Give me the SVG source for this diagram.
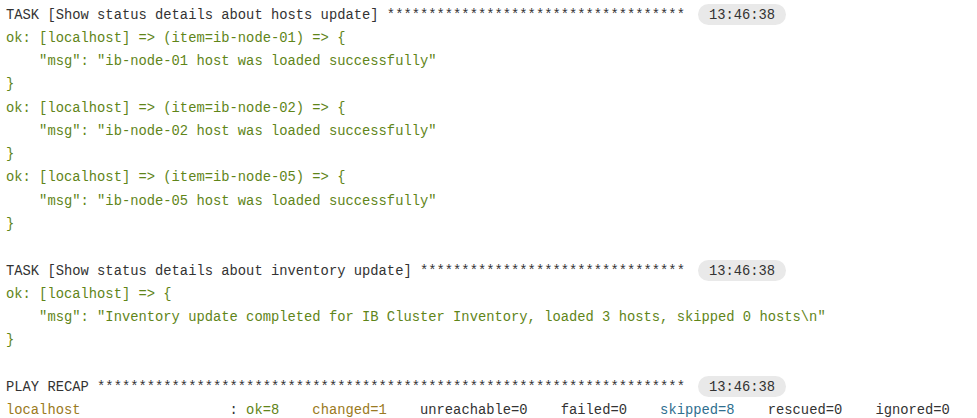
<svg xmlns="http://www.w3.org/2000/svg" width="977" height="418" viewBox="0 0 977 418">
<style>
text{font-family:"Liberation Mono","DejaVu Sans Mono",monospace;font-size:13.8px;white-space:pre}
.t{fill:#333}
.g{fill:#5f8519}
.y{fill:#9a7a22}
.b{fill:#2f6f8f}
.pill{fill:#e9e9e9}
.ts{fill:#333;text-anchor:middle}
</style>
<rect width="977" height="418" fill="#fff"/>
<g id="task1">
<text class="t" x="6" y="19" xml:space="preserve">TASK [Show status details about hosts update] ************************************</text>
<rect class="pill" x="698" y="4" width="88" height="21" rx="10.5"/>
<text class="ts" x="742" y="19">13:46:38</text>
<text class="g" x="6" y="42" xml:space="preserve">ok: [localhost] =&gt; (item=ib-node-01) =&gt; {</text>
<text class="g" x="6" y="65" xml:space="preserve">    "msg": "ib-node-01 host was loaded successfully"</text>
<text class="g" x="6" y="88">}</text>
<text class="g" x="6" y="112" xml:space="preserve">ok: [localhost] =&gt; (item=ib-node-02) =&gt; {</text>
<text class="g" x="6" y="135" xml:space="preserve">    "msg": "ib-node-02 host was loaded successfully"</text>
<text class="g" x="6" y="158">}</text>
<text class="g" x="6" y="181" xml:space="preserve">ok: [localhost] =&gt; (item=ib-node-05) =&gt; {</text>
<text class="g" x="6" y="205" xml:space="preserve">    "msg": "ib-node-05 host was loaded successfully"</text>
<text class="g" x="6" y="228">}</text>
</g>
<g id="task2">
<text class="t" x="6" y="275" xml:space="preserve">TASK [Show status details about inventory update] ********************************</text>
<rect class="pill" x="698" y="260" width="88" height="21" rx="10.5"/>
<text class="ts" x="742" y="275">13:46:38</text>
<text class="g" x="6" y="298" xml:space="preserve">ok: [localhost] =&gt; {</text>
<text class="g" x="6" y="321" xml:space="preserve">    "msg": "Inventory update completed for IB Cluster Inventory, loaded 3 hosts, skipped 0 hosts\n"</text>
<text class="g" x="6" y="344">}</text>
</g>
<g id="recap">
<text class="t" x="6" y="391" xml:space="preserve">PLAY RECAP ***********************************************************************</text>
<rect class="pill" x="698" y="376" width="88" height="21" rx="10.5"/>
<text class="ts" x="742" y="391">13:46:38</text>
<text class="t" x="6" y="414" xml:space="preserve"><tspan class="y">localhost</tspan>                  : <tspan class="g">ok=8</tspan>    <tspan class="y">changed=1</tspan>    unreachable=0    failed=0    <tspan class="b">skipped=8</tspan>    rescued=0    ignored=0</text>
</g>
</svg>
